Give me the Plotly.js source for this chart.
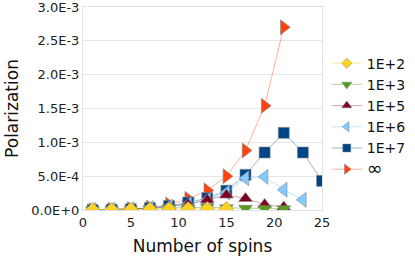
<!DOCTYPE html>
<html><head><meta charset="utf-8">
<script src="https://cdn.plot.ly/plotly-3.0.1.min.js"></script>
<style>html,body{margin:0;padding:0;background:#fff}#c{width:415px;height:262px}</style>
</head><body><div id="c"></div>
<script>
const seriesNames = ["1E+2","1E+3","1E+5","1E+6","1E+7","\u221E"];
const xE2 = [1,3,5,7,9,11,13,15];
const yE2 = [0.000004,0.000006,0.000010,0.000014,0.000017,0.000019,0.000020,0.000020];
const xE3 = [1,3,5,7,9,11,13,15,17,19,21];
const yE3 = [0.000002,0.000006,0.000012,0.000022,0.000032,0.000040,0.000040,0.000032,0.000025,0.000020,0.000018];
const xE5 = [1,3,5,7,9,11,13,15,17,19,21];
const yE5 = [0.000000,0.000006,0.000014,0.000028,0.000048,0.000085,0.000150,0.000220,0.000170,0.000080,0.000045];
const xE6 = [1,3,5,7,9,11,13,15,17,19,21,23];
const yE6 = [0.000000,0.000005,0.000012,0.000028,0.000050,0.000085,0.000150,0.000260,0.000470,0.000490,0.000300,0.000150];
const xE7 = [1,3,5,7,9,11,13,15,17,19,21,23,25];
const yE7 = [0.000000,0.000005,0.000012,0.000030,0.000060,0.000110,0.000175,0.000285,0.000520,0.000850,0.001140,0.000850,0.000430];
const xInf = [1,3,5,7,9,11,13,15,17,19,21];
const yInf = [0.000000,0.000006,0.000015,0.000035,0.000080,0.000165,0.000290,0.000500,0.000880,0.001540,0.002700];
const xTickVals = [0,5,10,15,20,25];
const yTickVals = [0,0.0005,0.001,0.0015,0.002,0.0025,0.003];
const yTickText = ["0.0E+0","5.0E-4","1.0E-3","1.5E-3","2.0E-3","2.5E-3","3.0E-3"];

const colors = ["#ffd320","#579d1c","#7e0021","#83caff","#004586","#ff420e"];
const lineColors = ["rgba(255,211,32,0.45)","rgba(87,157,28,0.45)","rgba(126,0,33,0.35)","rgba(131,202,255,0.5)","rgba(0,69,134,0.4)","rgba(255,66,14,0.4)"];
const symbols = ["diamond","triangle-down","triangle-up","triangle-left","square","triangle-right"];
const sizes = [11,12,12,13,11,13];
const legSizes = [8,9,9,9,8,9];
const xs = [xE2,xE3,xE5,xE6,xE7,xInf];
const ys = [yE2,yE3,yE5,yE6,yE7,yInf];

const order = [5,4,3,2,1,0];
const traces = order.map(i => ({
  type:"scatter", mode:"lines+markers", name:seriesNames[i], showlegend:false,
  x:xs[i], y:ys[i],
  line:{color:lineColors[i], width:1},
  marker:{symbol:symbols[i], size:sizes[i], color:colors[i], line:{color:"#888", width:0.6}}
}));
[0,1,2,3,4,5].forEach(i => traces.push({
  type:"scatter", mode:"lines+markers",
  name: i===5 ? "<span style='font-size:19px'>"+seriesNames[i]+"</span>" : seriesNames[i],
  showlegend:true,
  x:[null], y:[null], legendrank:i+1,
  line:{color:lineColors[i], width:1},
  marker:{symbol:symbols[i], size:legSizes[i], color:colors[i], line:{color:"#888", width:0.5}}
}));

const font = "DejaVu Sans, sans-serif";
Plotly.newPlot("c", traces, {
  width:415, height:262,
  margin:{l:83, r:93, t:7, b:52, autoexpand:false},
  paper_bgcolor:"#fff", plot_bgcolor:"#fff",
  font:{family:font, color:"#222"},
  showlegend:true,
  legend:{x:1.02, y:0.80, xanchor:"left", yanchor:"top", font:{size:14, family:font, color:"#111"}, itemwidth:30, traceorder:"normal", bgcolor:"rgba(0,0,0,0)"},
  xaxis:{range:[0,25], tickvals:xTickVals, ticks:"", showgrid:false, zeroline:false, automargin:false, ticklabeloverflow:"allow",
    showline:true, mirror:true, linecolor:"#e2e2e2", linewidth:1,
    tickfont:{size:13, family:font, color:"#222"},
    title:{text:"Number of spins", font:{size:17, family:font, color:"#111"}, standoff:11}},
  yaxis:{range:[0,0.003], tickvals:yTickVals, ticktext:yTickText, ticks:"", showgrid:true, gridcolor:"#e6e6e6", zeroline:false, automargin:false, ticklabeloverflow:"allow",
    showline:true, mirror:true, linecolor:"#e2e2e2", linewidth:1,
    tickfont:{size:13, family:font, color:"#222"},
    title:{text:"Polarization", font:{size:17, family:font, color:"#111"}, standoff:8}}
}, {displayModeBar:false, staticPlot:true});
</script></body></html>
